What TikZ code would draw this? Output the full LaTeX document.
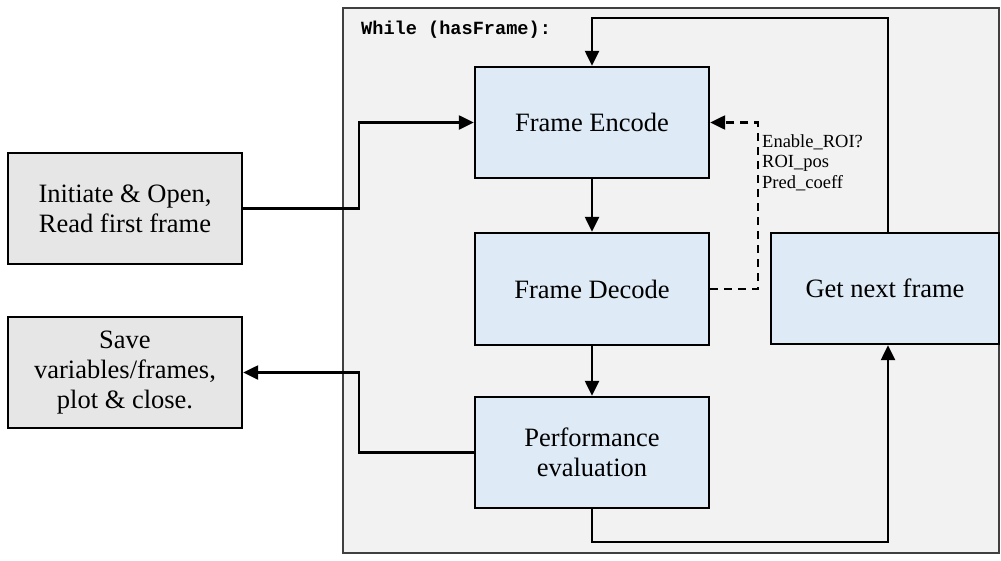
\documentclass[tikz,border=0pt]{standalone}
\usepackage{fontspec}
\setmainfont{Liberation Serif}
\newfontfamily\codefont{Liberation Mono}
\usetikzlibrary{arrows.meta}
\definecolor{loopbg}{HTML}{F2F2F2}
\definecolor{stepfill}{HTML}{DEEAF6}
\definecolor{iofill}{HTML}{E6E6E6}
\definecolor{loopedge}{HTML}{404040}
\tikzset{
  x=1pt, y=-1pt,
  blockbox/.style={draw=black, line width=2.4pt, fill=stepfill, inner sep=0pt,
    align=center, font=\fontsize{26.5}{30}\selectfont},
  iobox/.style={blockbox, fill=iofill},
  flow/.style={line width=2.4pt, -{Triangle[length=15pt,width=14pt]}},
  dataflow/.style={line width=2.4pt, dash pattern=on 8pt off 6pt, -{Triangle[length=15pt,width=14pt]}},
}
\begin{document}
\begin{tikzpicture}
\useasboundingbox (0,0) rectangle (1001,560);
% loop frame
\draw[draw=loopedge, line width=1.3pt, fill=loopbg] (343,8) rectangle (999,553);
\node[anchor=base west, inner sep=0pt, font=\codefont\bfseries\fontsize{18.6}{20}\selectfont]
  (looplabel) at (361,34) {While (hasFrame):};

% processing blocks
\node[blockbox, minimum width=234pt, minimum height=111pt] (enc) at (592,122.5) {Frame Encode};
\node[blockbox, minimum width=234pt, minimum height=112pt] (dec) at (592,289) {Frame Decode};
\node[blockbox, minimum width=234pt, minimum height=111pt] (perf) at (592,452.5) {Performance\\evaluation};
\node[blockbox, minimum width=228pt, minimum height=111pt] (next) at (885,288.5) {Get next frame};

% input / output blocks
\node[iobox, minimum width=234pt, minimum height=111pt] (init) at (125,208.5) {Initiate \& Open,\\Read first frame};
\node[iobox, minimum width=234pt, minimum height=111pt] (save) at (125,372.5) {Save\\variables/frames,\\plot \& close.};

% main flow
\draw[flow] (enc) -- (dec);
\draw[flow] (dec) -- (perf);
\draw[flow] (init.east) -- (359,208.5) |- (enc.west);
\draw[flow] (perf.west) -- (359,452.5) |- (save.east);
\coordinate (lowturn) at (888,542);
\draw[flow] (perf.south) |- (lowturn) -- (next.south -| lowturn);
\coordinate (topturn) at (888,18);
\draw[flow] (next.north -| topturn) -- (topturn) -| (enc.north);

% feedback of decoder parameters
\coordinate (fbturn) at (758,289);
\draw[dataflow] (dec.east) -- (fbturn) |- (enc.east);
\node[anchor=north west, inner sep=0pt, align=left, font=\fontsize{18.5}{20.5}\selectfont]
  (params) at (762,134) {Enable\_ROI?\\ROI\_pos\\Pred\_coeff};
\end{tikzpicture}
\end{document}
